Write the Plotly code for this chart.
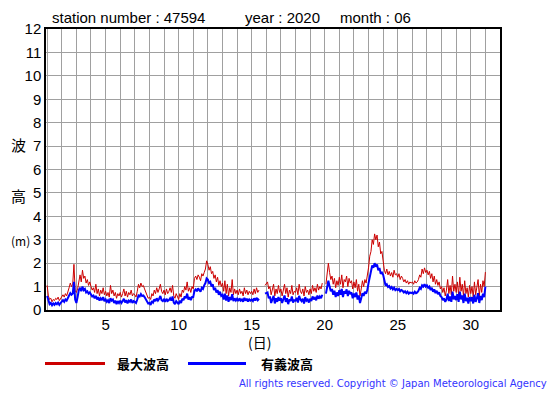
import plotly.graph_objects as go

# ---- data (2-hourly) ----
max_wave_rows = [
    [1.05, 0.6, 0.45, 0.5, 0.35, 0.45, 0.4, 0.5, 0.45, 0.55, 0.4, 0.5],
    [0.6, 0.65, 0.55, 0.7, 0.6, 0.85, 0.95, 1.15, 1.0, 1.1, 1.95, 0.8],
    [0.75, 0.9, 1.3, 1.5, 1.2, 1.7, 1.35, 1.45, 1.15, 1.3, 1.05, 1.2],
    [1.0, 0.85, 0.95, 0.75, 1.1, 0.7, 0.9, 0.6, 0.85, 0.7, 0.95, 0.65],
    [0.8, 0.6, 0.75, 0.55, 1.05, 0.7, 0.85, 0.6, 0.75, 0.5, 0.7, 0.6],
    [0.75, 0.55, 0.7, 0.9, 0.6, 0.8, 0.55, 0.75, 0.65, 0.85, 0.6, 0.7],
    [0.65, 0.55, 0.8, 1.1, 0.95, 1.15, 1.0, 1.05, 0.9, 0.75, 0.6, 0.5],
    [0.55, 0.45, 0.7, 0.6, 0.85, 0.7, 0.95, 0.75, 0.9, 1.1, 0.8, 0.7],
    [0.85, 0.65, 0.9, 0.7, 0.8, 0.95, 0.75, 1.05, 0.6, 0.5, 0.7, 0.55],
    [0.45, 0.7, 0.55, 0.85, 0.75, 1.0, 0.85, 1.2, 0.8, 0.95, 0.75, 1.0],
    [0.9, 1.35, 1.45, 1.3, 1.5, 1.4, 1.25, 1.55, 1.45, 1.6, 1.75, 2.1],
    [1.95, 1.7, 1.85, 1.55, 1.65, 1.35, 1.5, 1.2, 1.4, 1.05, 1.25, 1.0],
    [1.15, 0.8, 1.25, 0.7, 1.1, 0.6, 0.95, 0.75, 1.3, 0.65, 0.9, 0.7],
    [0.85, 0.65, 0.9, 0.7, 0.8, 0.6, 0.95, 0.7, 0.85, 0.65, 0.8, 0.7],
    [0.8, 0.65, 0.9, 0.7, 0.95, 0.75, 0.85, None, None, None, None, 1.05],
    [1.15, 1.2, 0.9, 1.0, 0.65, 0.85, 1.1, 0.6, 0.9, 0.7, 1.05, 0.75],
    [0.9, 0.6, 0.8, 1.1, 0.7, 0.95, 0.55, 0.85, 0.7, 1.05, 0.65, 0.8],
    [0.75, 0.95, 0.65, 1.1, 0.8, 0.7, 0.9, 0.6, 1.0, 0.75, 0.85, 0.65],
    [0.9, 0.7, 1.05, 0.8, 0.95, 0.75, 1.1, 0.85, 1.0, 0.9, 1.15, None],
    [None, 1.1, 1.5, 2.0, 1.6, 1.3, 1.45, 1.1, 1.35, 0.95, 1.25, 1.05],
    [1.4, 1.1, 1.5, 0.95, 1.3, 1.2, 1.45, 1.0, 1.35, 1.15, 1.25, 0.9],
    [1.2, 0.95, 1.3, 0.8, 1.1, 0.6, 0.9, 1.25, 1.0, 1.3, 1.15, 1.4],
    [1.8, 2.3, 2.5, 3.0, 2.8, 3.25, 3.0, 3.2, 2.7, 2.9, 2.4, 2.5],
    [2.0, 1.7, 1.55, 1.75, 1.5, 1.65, 1.45, 1.6, 1.4, 1.7, 1.5, 1.55],
    [1.4, 1.55, 1.3, 1.45, 1.35, 1.2, 1.3, 1.15, 1.25, 1.1, 1.2, 1.15],
    [1.2, 1.1, 1.25, 1.15, 1.2, 1.3, 1.5, 1.4, 1.75, 1.55, 1.8, 1.6],
    [1.7, 1.5, 1.65, 1.35, 1.55, 1.2, 1.45, 1.1, 1.3, 1.05, 1.2, 0.9],
    [1.0, 0.75, 0.95, 0.6, 0.85, 1.3, 0.7, 1.05, 0.65, 1.45, 0.8, 1.1],
    [0.75, 1.2, 0.65, 1.4, 0.8, 1.1, 0.6, 1.25, 0.7, 0.95, 0.55, 1.05],
    [0.7, 1.0, 0.55, 1.2, 0.65, 0.9, 1.3, 0.6, 1.1, 0.75, 1.25, 1.0],
    [1.62],
]
sig_wave_rows = [
    [0.6, 0.35, 0.25, 0.3, 0.2, 0.28, 0.22, 0.3, 0.25, 0.32, 0.22, 0.3],
    [0.38, 0.42, 0.35, 0.45, 0.4, 0.55, 0.62, 0.72, 0.65, 0.7, 1.2, 0.45],
    [0.3, 0.55, 0.85, 0.95, 0.8, 1.0, 0.85, 0.9, 0.75, 0.8, 0.7, 0.75],
    [0.68, 0.58, 0.62, 0.5, 0.6, 0.45, 0.55, 0.4, 0.5, 0.42, 0.55, 0.38],
    [0.45, 0.35, 0.42, 0.3, 0.5, 0.4, 0.45, 0.3, 0.4, 0.25, 0.38, 0.3],
    [0.4, 0.3, 0.38, 0.48, 0.32, 0.42, 0.28, 0.4, 0.35, 0.45, 0.3, 0.38],
    [0.35, 0.3, 0.45, 0.62, 0.58, 0.68, 0.6, 0.62, 0.55, 0.45, 0.35, 0.28],
    [0.3, 0.22, 0.38, 0.32, 0.45, 0.38, 0.5, 0.4, 0.48, 0.6, 0.42, 0.38],
    [0.45, 0.35, 0.48, 0.38, 0.42, 0.5, 0.4, 0.58, 0.32, 0.25, 0.38, 0.3],
    [0.25, 0.4, 0.3, 0.48, 0.42, 0.58, 0.5, 0.7, 0.45, 0.55, 0.42, 0.55],
    [0.55, 0.82, 0.88, 0.8, 0.92, 0.85, 0.78, 0.95, 0.9, 1.05, 1.15, 1.35],
    [1.3, 1.15, 1.2, 1.0, 1.1, 0.85, 0.95, 0.75, 0.85, 0.65, 0.78, 0.6],
    [0.65, 0.45, 0.7, 0.4, 0.62, 0.35, 0.55, 0.42, 0.68, 0.38, 0.5, 0.4],
    [0.48, 0.38, 0.5, 0.4, 0.45, 0.35, 0.52, 0.4, 0.48, 0.36, 0.45, 0.4],
    [0.45, 0.38, 0.5, 0.4, 0.52, 0.42, 0.48, None, None, None, None, 0.7],
    [0.72, 0.75, 0.5, 0.58, 0.3, 0.45, 0.6, 0.28, 0.5, 0.35, 0.55, 0.4],
    [0.5, 0.3, 0.42, 0.62, 0.35, 0.5, 0.25, 0.45, 0.38, 0.58, 0.32, 0.42],
    [0.4, 0.52, 0.32, 0.6, 0.45, 0.38, 0.48, 0.28, 0.55, 0.4, 0.45, 0.32],
    [0.48, 0.38, 0.58, 0.45, 0.52, 0.42, 0.62, 0.48, 0.58, 0.5, 0.65, None],
    [None, 0.7, 0.95, 1.25, 1.0, 0.8, 0.9, 0.65, 0.82, 0.55, 0.75, 0.6],
    [0.85, 0.65, 0.9, 0.55, 0.8, 0.7, 0.88, 0.6, 0.82, 0.68, 0.75, 0.5],
    [0.7, 0.55, 0.75, 0.45, 0.62, 0.3, 0.5, 0.72, 0.6, 0.78, 0.7, 0.85],
    [1.15, 1.45, 1.6, 1.9, 1.8, 2.0, 1.85, 1.95, 1.7, 1.8, 1.55, 1.6],
    [1.5, 1.2, 1.05, 1.1, 0.98, 1.02, 0.92, 0.98, 0.88, 0.95, 0.85, 0.9],
    [0.85, 0.9, 0.8, 0.85, 0.82, 0.75, 0.8, 0.72, 0.78, 0.7, 0.75, 0.72],
    [0.75, 0.7, 0.78, 0.72, 0.75, 0.82, 0.95, 0.9, 1.05, 1.0, 1.1, 1.0],
    [1.05, 0.95, 1.0, 0.85, 0.95, 0.78, 0.88, 0.72, 0.82, 0.68, 0.75, 0.6],
    [0.55, 0.42, 0.5, 0.35, 0.45, 0.7, 0.38, 0.58, 0.35, 0.78, 0.45, 0.6],
    [0.42, 0.68, 0.35, 0.78, 0.45, 0.62, 0.3, 0.7, 0.38, 0.52, 0.28, 0.55],
    [0.38, 0.55, 0.28, 0.65, 0.35, 0.5, 0.72, 0.3, 0.6, 0.42, 0.7, 0.55],
    [1.0],
]
samples_per_day = 12
x_tick_vals = list(range(1, 33))
x_tick_text = [str(d) if d % 5 == 0 else "" for d in x_tick_vals]
y_tick_vals = list(range(0, 13))

max_wave = [v for row in max_wave_rows for v in row]
sig_wave = [v for row in sig_wave_rows for v in row]
time_days = [1 + i / samples_per_day for i in range(len(max_wave))]

RED = "#cc0000"
BLUE = "#0000ff"

fig = go.Figure()
fig.add_trace(go.Scatter(x=time_days, y=max_wave, mode="lines",
                         line=dict(color=RED, width=1), connectgaps=False,
                         name="最大波高", showlegend=False))
fig.add_trace(go.Scatter(x=time_days, y=sig_wave, mode="lines",
                         line=dict(color=BLUE, width=2), connectgaps=False,
                         name="有義波高", showlegend=False))

# the page body has an 8px margin; lay the figure out in page pixels
OFF = 8
W, H = 555 - OFF, 395 - OFF
L, R = 46 - OFF, 55
T = 27 - OFF
B = H - (310 - OFF)
pw, ph = W - L - R, H - T - B


def px(xp):
    return (xp - OFF - L) / pw


def py(yp):
    return (H - B - (yp - OFF)) / ph


fig.update_layout(
    width=W, height=H,
    margin=dict(l=L, r=R, t=T, b=B),
    paper_bgcolor="white", plot_bgcolor="white",
    font=dict(family="Liberation Sans, Arial, sans-serif", size=15, color="black"),
    xaxis=dict(range=[0.92, 32], tickmode="array", tickvals=x_tick_vals,
               ticktext=x_tick_text, showgrid=True, gridcolor="#a0a0a0",
               gridwidth=1, showline=True, linecolor="black", linewidth=1.5,
               mirror=True, ticks="", zeroline=False,
               tickfont=dict(size=15)),
    yaxis=dict(range=[0, 12], tickmode="array", tickvals=y_tick_vals,
               showgrid=True, gridcolor="#a0a0a0", gridwidth=1,
               showline=True, linecolor="black", linewidth=1.5, mirror=True,
               ticks="", zeroline=False, tickfont=dict(size=15)),
)

annotations = []
# header texts
for txt, xpos in [("station number : 47594", 50), ("year : 2020", 243),
                  ("month : 06", 338)]:
    annotations.append(dict(text=txt, x=px(xpos), y=py(15), xref="paper",
                            yref="paper", xanchor="left", yanchor="middle",
                            showarrow=False, font=dict(size=15)))
# y axis label
cjk = "Noto Sans CJK JP, sans-serif"
for txt, ypos, fs in [("波", 143, 15), ("高", 195, 15), ("(m)", 240, 12)]:
    annotations.append(dict(text=txt, x=px(9), y=py(ypos), xref="paper",
                            yref="paper", xanchor="left", yanchor="middle",
                            showarrow=False,
                            font=dict(size=fs, family=cjk, color="black")))
# x axis label
annotations.append(dict(text="(日)", x=px(259), y=py(342), xref="paper",
                        yref="paper", xanchor="center", yanchor="middle",
                        showarrow=False, font=dict(size=14, family=cjk)))
# legend texts
annotations.append(dict(text="<b>最大波高</b>", x=px(115), y=py(364), xref="paper",
                        yref="paper", xanchor="left", yanchor="middle",
                        showarrow=False, font=dict(size=13, family=cjk)))
annotations.append(dict(text="<b>有義波高</b>", x=px(259), y=py(364), xref="paper",
                        yref="paper", xanchor="left", yanchor="middle",
                        showarrow=False, font=dict(size=13, family=cjk)))
# copyright
annotations.append(dict(text="All rights reserved. Copyright © Japan Meteorological Agency",
                        x=px(549), y=py(384), xref="paper", yref="paper",
                        xanchor="right", yanchor="middle", showarrow=False,
                        font=dict(size=10, color="#3333ff",
                                  family="DejaVu Sans, sans-serif")))
fig.update_layout(annotations=annotations)

shapes = [
    dict(type="line", xref="paper", yref="paper", x0=px(45), x1=px(105),
         y0=py(364), y1=py(364), line=dict(color=RED, width=3)),
    dict(type="line", xref="paper", yref="paper", x0=px(188), x1=px(246),
         y0=py(364), y1=py(364), line=dict(color=BLUE, width=3)),
]
fig.update_layout(shapes=shapes)

fig.write_html("out.html")
